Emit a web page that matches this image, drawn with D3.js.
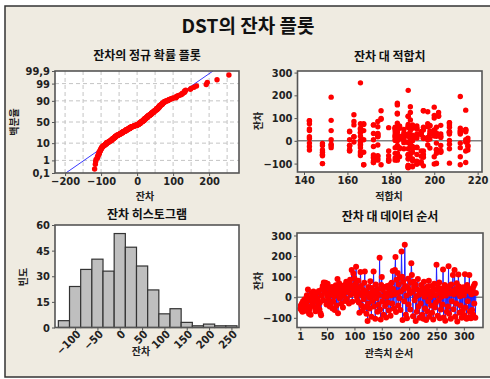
<!DOCTYPE html>
<html>
<head>
<meta charset="utf-8">
<script src="https://cdn.jsdelivr.net/npm/d3@7"></script>
<style>
  body { margin: 0; background: #fff; }
  text { font-family: "Noto Sans CJK KR", "Noto Sans", sans-serif; }
</style>
</head>
<body>
<div id="chart"></div>
<script>
// residuals in observation order
const residuals = [
  -55, -40, -62, -30, -70, -20, -45, -58, -10, -35, -66, -25, 10, -48, 37, -5, -80, -60, -15, -85,
  -42, 20, 5, -30, 28, -12, 15, -50, -68, 0, 22, -20, -8, -38, 30, -60, -25, -78, -88, 10,
  40, 55, -15, 72, 60, 25, 70, 45, -35, 8, 65, -10, 48, 18, -45, 30, -28, 12, 50, -55,
  -20, 35, 5, -62, 22, 58, -40, 15, 88, -78, 40, 68, -5, 28, 2, -32, 55, 20, -50, 10,
  32, 60, -18, 45, 75, -8, 25, 62, 38, -30, 70, 85, 12, 48, 132, -22, 55, 115, 30, 92,
  18, 65, 148, 5, -15, 42, 80, -25, -75, 20, 122, 55, -40, 10, -65, 35, -10, 70, 125, -48,
  28, -80, 15, -115, -30, 50, 0, -55, 78, 20, -95, 45, -18, 8, 125, -45, 30, -105, 62, -5,
  22, -70, 40, -35, 12, 192, -60, -108, 60, 98, -20, 35, -85, 5, 50, -42, 18, -98, 2, 55,
  -25, 45, -65, 30, 60, -90, 10, 70, -30, 128, 40, -55, 15, 132, 195, -72, 85, 20, 118, -40,
  62, -5, 95, -62, 28, 222, 100, -110, 75, 40, -20, 255, 55, -85, 8, -102, 48, 90, -35, 35,
  18, -60, 70, 165, 108, 25, -92, 75, 50, -15, 62, -116, 5, -70, 38, 88, -45, 12, -100, 30,
  -30, 60, 20, -85, 45, -105, 75, 2, -55, 35, -110, 15, -68, 52, -20, 80, -95, 28, 0, -40,
  55, -75, 22, -108, 40, 65, -50, 10, -25, 158, 35, -90, 48, -15, 72, -102, 18, -60, 2, 42,
  -35, 135, -98, 25, 60, -114, 8, 32, -70, 45, -45, 150, -80, 55, 18, -105, 62, -20, 30, 108,
  -58, 15, 132, -95, 40, -30, 68, -118, 20, 110, 52, -75, 5, -40, 35, -100, 25, -65, 48, 10,
  -88, 112, -50, 30, -105, 60, -20, 45, -98, 108, -70, 25, -102, 15, -62, 40, -85, 55, -30, 65, -100, 20
];
// fitted values, same order
const fits = [
  183, 142.5, 148.5, 190, 172, 161, 195, 189, 201, 188, 148.5, 142.5, 184, 203, 183, 166, 179, 192, 207, 174,
  161, 188, 214.5, 182, 198, 148.5, 189, 167.5, 194, 183, 200, 152.5, 186, 201, 207, 148.5, 172, 188, 190, 142.5,
  182, 189, 166, 167.5, 195, 174, 172, 212, 190, 184, 188, 142.5, 200, 163, 179, 203, 192, 215.5, 214.5, 183,
  148.5, 201, 152.5, 188, 186, 179, 161, 189, 142.5, 174, 194, 203, 163, 182, 207, 198, 184, 166, 190, 195,
  174, 183, 197, 142.5, 166, 188, 200, 189, 207, 184, 190, 174, 192, 214.5, 195, 161, 182, 163, 212, 189,
  182, 198, 200, 167.5, 189, 161, 207, 183, 172, 203, 183, 192, 148.5, 186, 179, 194, 212, 172, 202, 166,
  188, 190, 195, 188, 166, 186, 215.5, 182, 183, 201, 172, 152.5, 174, 190, 189, 194, 198, 167.5, 184, 214.5,
  192, 183, 161, 207, 189, 152.5, 195, 188, 182, 175.5, 166, 200, 179, 197, 166, 203, 184, 201, 186, 190,
  215.5, 200, 166, 174, 188, 192, 183, 163, 212, 197, 207, 189, 190, 175.5, 212, 195, 163, 182, 183, 201,
  184, 188, 175.5, 172, 194, 188, 200, 190, 167.5, 212, 161, 166, 189, 183, 198, 192, 214.5, 152.5, 186, 207,
  174, 188, 207, 183, 202, 190, 194, 142.5, 182, 189, 197, 188, 172, 184, 166, 142.5, 161, 195, 148.5, 200,
  192, 188, 174, 179, 189, 175.5, 197, 182, 201, 166, 195, 203, 174, 192, 183, 207, 172, 186, 190, 161,
  182, 189, 200, 188, 214.5, 184, 203, 197, 190, 183, 212, 179, 195, 152.5, 188, 192, 142.5, 183, 166, 198,
  184, 214.5, 194, 189, 201, 190, 182, 172, 200, 167.5, 214.5, 189, 188, 212, 163, 167.5, 174, 203, 192, 188,
  166, 183, 195, 214.5, 207, 189, 198, 188, 184, 202, 142.5, 182, 161, 215.5, 186, 201, 192, 174, 183, 190,
  172, 200, 148.5, 188, 212, 207, 215.5, 183, 207, 188, 212, 201, 200, 197, 188, 194, 182, 166, 152.5, 192, 148.5, 189
];
// histogram: bin midpoints and counts
const binMids = [-125, -100, -75, -50, -25, 0, 25, 50, 75, 100, 125, 150, 175, 200, 225, 250];
const binCounts = [4, 24, 34, 40, 33, 55, 47, 36, 22, 8, 11, 3, 1, 2, 1, 1];

const probTicks = [0.1, 1, 10, 50, 90, 99, 99.9];
const probLabels = ["0,1", "1", "10", "50", "90", "99", "99,9"];
const npTicks = [-200, -100, 0, 100, 200];
const fitTicks = [140, 160, 180, 200, 220];
const resTicks = [-100, 0, 100, 200, 300];
const histYTicks = [0, 15, 30, 45, 60];
const histXTicks = [-100, -50, 0, 50, 100, 150, 200, 250];
const orderTicks = [1, 50, 100, 150, 200, 250, 300];

const W = 490, H = 379;
const svg = d3.select("#chart").append("svg").attr("width", W).attr("height", H);

svg.append("rect").attr("x", 5).attr("y", 6).attr("width", 500).attr("height", 371)
  .attr("fill", "#efebe1").attr("stroke", "#333").attr("stroke-width", 1.5);

svg.append("text").attr("x", 248).attr("y", 33).attr("text-anchor", "middle")
  .attr("font-size", 19).attr("font-weight", "bold").attr("fill", "#111").text("DST의 잔차 플롯");

// inverse normal cdf (Acklam)
function qnorm(p) {
  const a = [-39.6968302866538, 220.946098424521, -275.928510446969, 138.357751867269, -30.6647980661472, 2.50662827745924];
  const b = [-54.4760987982241, 161.585836858041, -155.698979859887, 66.8013118877197, -13.2806815528857];
  const c = [-0.00778489400243029, -0.322396458041136, -2.40075827716184, -2.54973253934373, 4.37466414146497, 2.93816398269878];
  const d = [0.00778469570904146, 0.32246712907004, 2.445134137143, 3.75440866190742];
  const pl = 0.02425;
  let q, r;
  if (p < pl) {
    q = Math.sqrt(-2 * Math.log(p));
    return (((((c[0]*q+c[1])*q+c[2])*q+c[3])*q+c[4])*q+c[5]) / ((((d[0]*q+d[1])*q+d[2])*q+d[3])*q+1);
  } else if (p <= 1 - pl) {
    q = p - 0.5; r = q * q;
    return (((((a[0]*r+a[1])*r+a[2])*r+a[3])*r+a[4])*r+a[5])*q / (((((b[0]*r+b[1])*r+b[2])*r+b[3])*r+b[4])*r+1);
  }
  q = Math.sqrt(-2 * Math.log(1 - p));
  return -(((((c[0]*q+c[1])*q+c[2])*q+c[3])*q+c[4])*q+c[5]) / ((((d[0]*q+d[1])*q+d[2])*q+d[3])*q+1);
}

function panel(box, title, titleY) {
  const g = svg.append("g");
  g.append("rect").attr("x", box.l).attr("y", box.t).attr("width", box.r - box.l).attr("height", box.b - box.t)
    .attr("fill", "#fff");
  g.append("text").attr("x", (box.l + box.r) / 2).attr("y", titleY).attr("text-anchor", "middle")
    .attr("font-size", 12).attr("font-weight", "bold").attr("fill", "#111").text(title);
  const clipId = "clip" + Math.round(box.l) + Math.round(box.t);
  g.append("clipPath").attr("id", clipId).append("rect")
    .attr("x", box.l).attr("y", box.t).attr("width", box.r - box.l).attr("height", box.b - box.t);
  return { g, clip: "url(#" + clipId + ")" };
}
function frame(g, box) {
  g.append("rect").attr("x", box.l).attr("y", box.t).attr("width", box.r - box.l).attr("height", box.b - box.t)
    .attr("fill", "none").attr("stroke", "#555").attr("stroke-width", 1.6);
}
function styleAxis(sel) {
  sel.select(".domain").remove();
  sel.selectAll("line").attr("stroke", "#555");
  sel.selectAll("text").attr("font-size", 11).attr("font-weight", "bold").attr("fill", "#222")
    .style("font-family", "'Liberation Sans Narrow', 'DejaVu Sans Condensed', 'Noto Sans', sans-serif");
}
function axisLabel(g, x, y, txt, rot) {
  g.append("text").attr("transform", `translate(${x},${y})` + (rot ? " rotate(-90)" : ""))
    .attr("text-anchor", "middle").attr("font-size", 10).attr("font-weight", "bold")
    .attr("fill", "#222").text(txt);
}

// ---- normal probability plot
const np = { l: 55, r: 239, t: 71, b: 173 };
const P1 = panel(np, "잔차의 정규 확률 플롯", 60);
const npx = d3.scaleLinear().domain([-228, 283]).range([np.l, np.r]);
const zMax = qnorm(0.999);
const npy = d3.scaleLinear().domain([-zMax, zMax]).range([np.b, np.t]);

P1.g.append("g").selectAll("line").data(d3.range(-200, 251, 50)).join("line")
  .attr("x1", d => npx(d)).attr("x2", d => npx(d)).attr("y1", np.t).attr("y2", np.b)
  .attr("stroke", "#c4c4c4").attr("stroke-dasharray", "4,3");
P1.g.append("g").selectAll("line").data([1, 10, 50, 90, 99]).join("line")
  .attr("x1", np.l).attr("x2", np.r).attr("y1", d => npy(qnorm(d / 100))).attr("y2", d => npy(qnorm(d / 100)))
  .attr("stroke", "#c4c4c4").attr("stroke-dasharray", "4,3");

const sorted = residuals.slice().sort(d3.ascending);
const n = sorted.length;
const mu = d3.mean(residuals), sd = d3.deviation(residuals);
P1.g.append("line").attr("clip-path", P1.clip)
  .attr("x1", npx(mu - sd * zMax)).attr("y1", npy(-zMax))
  .attr("x2", npx(mu + sd * zMax)).attr("y2", npy(zMax))
  .attr("stroke", "#3a3aff").attr("stroke-width", 1);
P1.g.append("g").attr("clip-path", P1.clip).selectAll("circle").data(sorted).join("circle")
  .attr("cx", d => npx(d)).attr("cy", (d, i) => npy(qnorm((i + 1 - 0.3) / (n + 0.4))))
  .attr("r", 2.7).attr("fill", "#ff0000");
frame(P1.g, np);
P1.g.append("g").attr("transform", `translate(0,${np.b})`)
  .call(d3.axisBottom(npx).tickValues(npTicks).tickSize(3).tickPadding(1)).call(styleAxis);
P1.g.append("g").attr("transform", `translate(${np.l},0)`)
  .call(d3.axisLeft(npy).tickValues(probTicks.map(p => qnorm(p / 100)))
    .tickFormat((d, i) => probLabels[i]).tickSize(3).tickPadding(2)).call(styleAxis);
axisLabel(P1.g, 145, 200, "잔차");
axisLabel(P1.g, 18, 122, "백분율", true);

// ---- residuals vs fits
const fb = { l: 297.5, r: 482, t: 71, b: 172 };
const P2 = panel(fb, "잔차 대 적합치", 61);
const fx = d3.scaleLinear().domain([137, 222]).range([fb.l, fb.r]);
const fy = d3.scaleLinear().domain([-137, 307]).range([fb.b, fb.t]);
P2.g.append("line").attr("x1", fb.l).attr("x2", fb.r).attr("y1", fy(0)).attr("y2", fy(0))
  .attr("stroke", "#808080").attr("stroke-width", 1.5);
P2.g.append("g").attr("clip-path", P2.clip).selectAll("circle").data(residuals).join("circle")
  .attr("cx", (d, i) => fx(fits[i])).attr("cy", d => fy(d)).attr("r", 2.7).attr("fill", "#ff0000");
frame(P2.g, fb);
P2.g.append("g").attr("transform", `translate(0,${fb.b})`)
  .call(d3.axisBottom(fx).tickValues(fitTicks).tickSize(3).tickPadding(1)).call(styleAxis);
P2.g.append("g").attr("transform", `translate(${fb.l},0)`)
  .call(d3.axisLeft(fy).tickValues(resTicks).tickSize(3).tickPadding(2)).call(styleAxis);
axisLabel(P2.g, 389, 200, "적합치");
axisLabel(P2.g, 262, 121, "잔차", true);

// ---- histogram
const hb = { l: 55, r: 239, t: 225, b: 327.5 };
const P3 = panel(hb, "잔차 히스토그램", 219);
const hx = d3.scaleLinear().domain([-145, 267]).range([hb.l, hb.r]);
const hy = d3.scaleLinear().domain([0, 60]).range([hb.b, hb.t]);
P3.g.append("g").selectAll("rect").data(binMids).join("rect")
  .attr("x", d => hx(d - 12.5)).attr("width", d => hx(d + 12.5) - hx(d - 12.5))
  .attr("y", (d, i) => hy(binCounts[i])).attr("height", (d, i) => hy(0) - hy(binCounts[i]))
  .attr("fill", "#bfbfbf").attr("stroke", "#333").attr("stroke-width", 1.2);
frame(P3.g, hb);
P3.g.append("g").attr("transform", `translate(0,${hb.b})`)
  .call(d3.axisBottom(hx).tickValues(histXTicks).tickSize(3).tickPadding(2)).call(styleAxis)
  .selectAll("text").attr("text-anchor", "end").attr("dx", "-0.1em").attr("dy", "0.4em")
  .attr("transform", "rotate(-45)");
P3.g.append("g").attr("transform", `translate(${hb.l},0)`)
  .call(d3.axisLeft(hy).tickValues(histYTicks).tickSize(3).tickPadding(2)).call(styleAxis);
axisLabel(P3.g, 141, 355, "잔차");
axisLabel(P3.g, 27, 277, "빈도", true);

// ---- residuals vs order
const ob = { l: 297, r: 483, t: 233, b: 327.5 };
const P4 = panel(ob, "잔차 대 데이터 순서", 221);
const ox = d3.scaleLinear().domain([-5, 335]).range([ob.l, ob.r]);
const oy = d3.scaleLinear().domain([-147, 312]).range([ob.b, ob.t]);
P4.g.append("line").attr("x1", ob.l).attr("x2", ob.r).attr("y1", oy(0)).attr("y2", oy(0))
  .attr("stroke", "#808080").attr("stroke-width", 1.5);
P4.g.append("path").datum(residuals).attr("clip-path", P4.clip)
  .attr("d", d3.line().x((d, i) => ox(i + 1)).y(d => oy(d)))
  .attr("fill", "none").attr("stroke", "#1f1fff").attr("stroke-width", 1);
P4.g.append("g").attr("clip-path", P4.clip).selectAll("circle").data(residuals).join("circle")
  .attr("cx", (d, i) => ox(i + 1)).attr("cy", d => oy(d)).attr("r", 3).attr("fill", "#ff0000");
frame(P4.g, ob);
P4.g.append("g").attr("transform", `translate(0,${ob.b})`)
  .call(d3.axisBottom(ox).tickValues(orderTicks).tickSize(3).tickPadding(2)).call(styleAxis);
P4.g.append("g").attr("transform", `translate(${ob.l},0)`)
  .call(d3.axisLeft(oy).tickValues(resTicks).tickSize(3).tickPadding(2)).call(styleAxis);
axisLabel(P4.g, 389, 357, "관측치 순서");
axisLabel(P4.g, 262, 281, "잔차", true);
</script>
</body>
</html>
